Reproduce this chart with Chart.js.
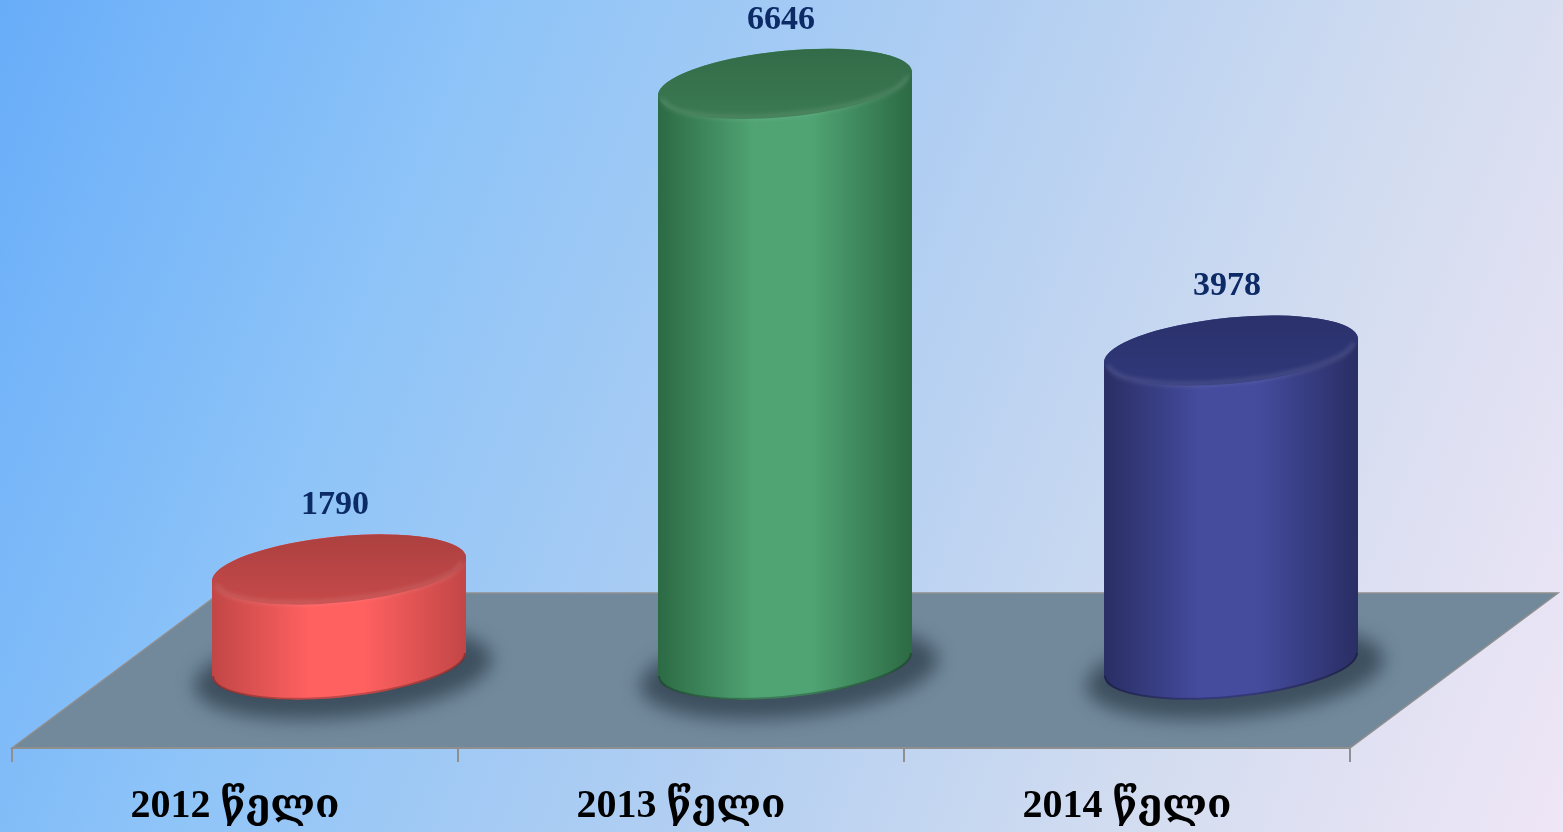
<!DOCTYPE html>
<html>
<head>
<meta charset="utf-8">
<script src="https://cdn.jsdelivr.net/npm/chart.js@4.4.1/dist/chart.umd.min.js"></script>
<style>
  html, body { margin: 0; padding: 0; width: 1563px; height: 832px; overflow: hidden; }
  body { background: linear-gradient(112deg, #68adf9 0%, #8ec4f8 26%, #b0cef2 52%, #d4ddf0 78%, #efe6f6 100%); }
</style>
</head>
<body>
<canvas id="chart" width="1563" height="832"></canvas>
<script>
const years = ['2012 წელი', '2013 წელი', '2014 წელი'];
const counts = [1790, 6646, 3978];

// [edge, centre, lid] per cylinder
const palette = [
  ['#c24646', '#ff6060', '#c54949'],
  ['#2c6a44', '#50a474', '#3a7a52'],
  ['#292e64', '#454c9e', '#30387a'],
];

const DEPTH_X = 208;
const DEPTH_Y = 155;
const DEPTH_SHIFT = 6;   // cylinders sit a little behind the middle of the floor
const LID_RY = 33;
const LID_TILT = -0.098;
const LABEL_FONT = '"Liberation Serif", "DejaVu Serif", serif';

function drawCylinder(ctx, cx, topY, baseY, rx, colors) {
  const ry = LID_RY, rot = LID_TILT;
  const t0 = Math.atan2(-ry * Math.sin(rot), rx * Math.cos(rot));
  const hw = rx * Math.cos(t0) * Math.cos(rot) - ry * Math.sin(t0) * Math.sin(rot);
  const hy = rx * Math.cos(t0) * Math.sin(rot) + ry * Math.sin(t0) * Math.cos(rot);

  // soft shadow on the floor
  ctx.save();
  ctx.filter = 'blur(9px)';
  ctx.fillStyle = 'rgba(40, 55, 70, 0.7)';
  ctx.beginPath();
  ctx.ellipse(cx + 4, baseY + 8, rx + 22, ry + 12, rot, 0, Math.PI * 2);
  ctx.fill();
  ctx.restore();

  // body
  const g = ctx.createLinearGradient(cx - hw, 0, cx + hw, 0);
  g.addColorStop(0, colors[0]);
  g.addColorStop(0.38, colors[1]);
  g.addColorStop(0.6, colors[1]);
  g.addColorStop(1, colors[0]);
  ctx.beginPath();
  ctx.moveTo(cx - hw, topY - hy);
  ctx.lineTo(cx - hw, baseY - hy);
  ctx.ellipse(cx, baseY, rx, ry, rot, t0 + Math.PI, t0, true);
  ctx.lineTo(cx + hw, topY + hy);
  ctx.ellipse(cx, topY, rx, ry, rot, t0, t0 + Math.PI, true);
  ctx.closePath();
  ctx.fillStyle = g;
  ctx.fill();

  // darker rim along the base
  ctx.save();
  ctx.strokeStyle = 'rgba(0, 0, 0, 0.25)';
  ctx.lineWidth = 2;
  ctx.beginPath();
  ctx.ellipse(cx, baseY, rx - 1, ry - 1, rot, t0 + Math.PI, t0, true);
  ctx.stroke();
  ctx.restore();

  // lid
  const lg = ctx.createLinearGradient(0, topY - ry, 0, topY + ry);
  lg.addColorStop(0, 'rgba(0,0,0,0.12)');
  lg.addColorStop(1, 'rgba(0,0,0,0)');
  ctx.beginPath();
  ctx.ellipse(cx, topY, rx, ry, rot, 0, Math.PI * 2);
  ctx.fillStyle = colors[2];
  ctx.fill();
  ctx.fillStyle = lg;
  ctx.fill();

  // soft light bevel on the front edge of the lid
  ctx.save();
  ctx.filter = 'blur(2px)';
  ctx.strokeStyle = 'rgba(255, 255, 255, 0.1)';
  ctx.lineWidth = 5;
  ctx.beginPath();
  ctx.ellipse(cx, topY + 3, rx - 5, ry - 5, rot, t0 + Math.PI, t0, true);
  ctx.stroke();
  ctx.restore();
}

const floorPlugin = {
  id: 'floor',
  beforeDraw(chart) {
    const { ctx, chartArea } = chart;
    const l = chartArea.left, r = chartArea.right, b = chartArea.bottom;
    ctx.save();
    ctx.beginPath();
    ctx.moveTo(l, b);
    ctx.lineTo(r, b);
    ctx.lineTo(r + DEPTH_X, b - DEPTH_Y);
    ctx.lineTo(l + DEPTH_X, b - DEPTH_Y);
    ctx.closePath();
    ctx.fillStyle = '#71899b';
    ctx.fill();
    ctx.strokeStyle = '#8f8f8f';
    ctx.lineWidth = 1.5;
    ctx.stroke();
    ctx.restore();
  },
};

const cylinderPlugin = {
  id: 'cylinders',
  afterDatasetsDraw(chart) {
    const ctx = chart.ctx;
    const yScale = chart.scales.y;
    const floorY = yScale.getPixelForValue(yScale.min);
    const meta = chart.getDatasetMeta(0);
    const lift = DEPTH_Y / 2 + DEPTH_SHIFT;
    ctx.save();
    meta.data.forEach((bar, i) => {
      const { x, y, width } = bar.getProps(['x', 'y', 'width'], true);
      const cx = x + DEPTH_X / 2;
      const topY = y - lift;
      const baseY = floorY - lift;
      drawCylinder(ctx, cx, topY, baseY, width / 2, palette[i]);

      ctx.font = 'bold 34px ' + LABEL_FONT;
      ctx.fillStyle = '#0c2a66';
      ctx.textAlign = 'center';
      ctx.textBaseline = 'middle';
      ctx.fillText(String(counts[i]), cx - 4, topY - 64);
    });
    ctx.restore();
  },
};

new Chart(document.getElementById('chart'), {
  type: 'bar',
  data: {
    labels: years,
    datasets: [{
      data: counts,
      backgroundColor: 'rgba(0,0,0,0)',
      borderWidth: 0,
      categoryPercentage: 1,
      barPercentage: 0.572,
    }],
  },
  options: {
    responsive: false,
    animation: false,
    layout: { padding: { left: 12, right: 213, top: 100, bottom: 0 } },
    plugins: {
      legend: { display: false },
      tooltip: { enabled: false },
    },
    scales: {
      x: {
        offset: true,
        grid: {
          offset: true,
          drawOnChartArea: false,
          drawTicks: true,
          tickLength: 14,
          color: '#8f8f8f',
          lineWidth: 2,
        },
        border: { display: true, color: '#8f8f8f', width: 2 },
        ticks: {
          color: '#000',
          maxRotation: 0,
          padding: 21,
          font: { family: LABEL_FONT, size: 40, weight: 'bold' },
        },
        afterFit(scale) { scale.height = 84; },
      },
      y: {
        display: false,
        min: 840,
        max: 7320,
      },
    },
  },
  plugins: [floorPlugin, cylinderPlugin],
});
</script>
</body>
</html>
